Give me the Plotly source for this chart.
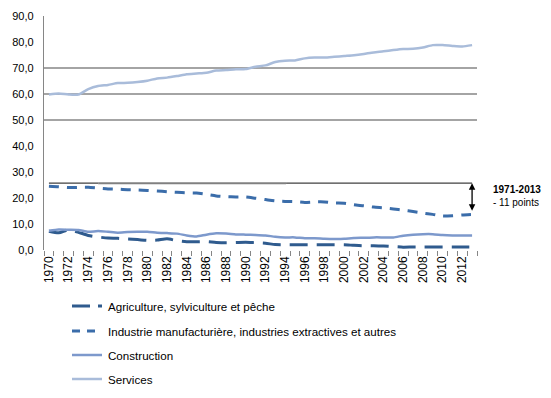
import plotly.graph_objects as go

years = list(range(1970, 2014))

agriculture = [7.2, 6.6, 7.8, 6.8, 5.6, 5.0, 4.6, 4.5, 4.2, 4.0, 3.7, 3.8, 4.3, 3.6, 3.2,
               3.2, 3.2, 2.9, 2.8, 2.9, 3.0, 2.8, 2.6, 2.1, 2.0, 2.0, 2.0, 2.0, 2.0, 2.0,
               2.0, 1.8, 1.65, 1.6, 1.5, 1.3, 1.1, 1.15, 1.15, 1.15, 1.15, 1.15, 1.15, 1.15]
industrie = [24.5, 24.3, 24.0, 24.1, 24.1, 23.8, 23.5, 23.4, 23.2, 23.1, 22.9, 22.7, 22.4, 22.2, 22.0,
             21.9, 21.4, 20.8, 20.5, 20.4, 20.4, 19.9, 19.4, 18.9, 18.7, 18.6, 18.3, 18.5, 18.5, 18.1,
             18.0, 17.4, 17.0, 16.5, 16.2, 15.8, 15.3, 14.8, 14.2, 13.7, 13.1, 13.2, 13.5, 13.7]
construction = [7.4, 7.9, 7.8, 7.7, 7.0, 7.3, 7.0, 6.65, 6.9, 7.0, 7.0, 6.65, 6.5, 6.3, 5.6,
                5.2, 5.9, 6.4, 6.3, 6.0, 5.9, 5.8, 5.6, 5.1, 4.85, 4.85, 4.5, 4.5, 4.3, 4.2,
                4.35, 4.6, 4.7, 4.85, 4.85, 4.85, 5.5, 5.9, 6.1, 6.1, 5.75, 5.6, 5.6, 5.6]
services = [59.8, 60.2, 59.8, 59.8, 61.9, 63.1, 63.5, 64.2, 64.3, 64.6, 65.1, 66.0, 66.3, 66.9, 67.6,
            67.9, 68.2, 69.0, 69.2, 69.5, 69.6, 70.5, 71.0, 72.3, 72.8, 72.9, 73.7, 74.0, 74.0, 74.3,
            74.6, 74.9, 75.4, 76.0, 76.4, 76.9, 77.3, 77.4, 77.9, 78.8, 78.8, 78.5, 78.3, 78.8]

names = ["Agriculture, sylviculture et pêche",
         "Industrie manufacturière, industries extractives et autres",
         "Construction",
         "Services"]

y_ticks = [0, 10, 20, 30, 40, 50, 60, 70, 80, 90]
y_ticktext = ["0,0", "10,0", "20,0", "30,0", "40,0", "50,0", "60,0", "70,0", "80,0", "90,0"]
x_ticks = list(range(1970, 2013, 2))

ref_level = 25.7
end_level = 14.5

FONT = "Liberation Sans"

# plot area in pixels (for converting layout positions)
L, R, T, B = 44, 477, 16, 250
W, H = R - L, B - T
def px(x):
    return (x - L) / W
def py(y):
    return (B - y) / H

fig = go.Figure()
styles = [
    dict(color="#2F5B8E", width=3, dash="18px,9px"),
    dict(color="#3B6DAA", width=3, dash="10px,8px"),
    dict(color="#7D99CC", width=2.5),
    dict(color="#A9BCDA", width=2.5),
]
for i, (nm, vals) in enumerate(zip(names, [agriculture, industrie, construction, services])):
    fig.add_trace(go.Scatter(x=years, y=vals, name=nm, mode="lines",
                             line=dict(shape="spline", smoothing=0.6, **styles[i]),
                             showlegend=False))

# manual legend
leg_rows = [306, 331, 355, 379]
leg_dash = ["18px,8px", "8px,7px", None, None]
for i, nm in enumerate(names):
    ln = dict(color=styles[i]["color"], width=styles[i]["width"])
    if leg_dash[i]:
        ln["dash"] = leg_dash[i]
    fig.add_shape(type="line", xref="paper", yref="paper", x0=px(72), x1=px(102),
                  y0=py(leg_rows[i]), y1=py(leg_rows[i]), line=ln)
    fig.add_annotation(x=px(106), y=py(leg_rows[i]), xref="paper", yref="paper",
                       xanchor="left", yanchor="middle", showarrow=False, text=nm,
                       font=dict(family=FONT, size=11.6, color="#000"))

# gridlines (only 50, 60, 70 visible)
for g in [50, 60, 70]:
    fig.add_shape(type="line", xref="paper", yref="y", x0=0, x1=1, y0=g, y1=g,
                  line=dict(color="#868686", width=1.3), layer="below")

# reference line
fig.add_shape(type="line", xref="x", yref="y", x0=1970, x1=1975, y0=ref_level, y1=ref_level,
              line=dict(color="#404040", width=1.3))
fig.add_shape(type="line", xref="x", yref="y", x0=1975, x1=1994.1, y0=ref_level, y1=ref_level,
              line=dict(color="#808080", width=2))
fig.add_shape(type="line", xref="x", yref="y", x0=1994.1, x1=2013, y0=ref_level, y1=ref_level,
              line=dict(color="#404040", width=1.3))

fig.add_annotation(x=2013, y=ref_level, ax=2013, ay=end_level, xref="x", yref="y",
                   axref="x", ayref="y", showarrow=True, arrowhead=2, startarrowhead=2,
                   arrowside="end+start", arrowwidth=1.3, arrowcolor="#000000", text="")
fig.add_annotation(x=px(491), y=py(189), xref="paper", yref="paper",
                   xanchor="left", yanchor="middle", showarrow=False,
                   text="<b>1971-2013</b>", font=dict(family=FONT, size=10, color="#000"))
fig.add_annotation(x=px(491), y=py(202), xref="paper", yref="paper",
                   xanchor="left", yanchor="middle", showarrow=False,
                   text="- 11 points", font=dict(family=FONT, size=10, color="#000"))

fig.update_layout(
    width=551, height=398,
    margin=dict(l=L, r=551 - R, t=T, b=398 - B, autoexpand=False),
    paper_bgcolor="white", plot_bgcolor="white",
    font=dict(family=FONT, size=10, color="#000"),
    showlegend=False,
    xaxis=dict(range=[1969.5, 2013.5], tickvals=x_ticks, ticktext=[str(v) for v in x_ticks],
               tickangle=-90, ticks="", showgrid=False, zeroline=False, showline=False,
               tickfont=dict(family=FONT, size=12), ticklabelstandoff=3,
               minor=dict(tickvals=[y + 0.5 for y in range(1969, 2014)], ticks="outside",
                          ticklen=5, tickcolor="#868686", showgrid=False)),
    yaxis=dict(range=[0, 90], tickvals=y_ticks, ticktext=y_ticktext, showgrid=False,
               zeroline=False, showline=True, linecolor="#868686", linewidth=1.3,
               ticks="", ticklabelstandoff=7, tickfont=dict(family=FONT, size=11)),
)

fig.write_html("out.html", config={"displayModeBar": False},
               post_script="document.body.style.margin='0px';document.body.style.overflow='hidden';")
